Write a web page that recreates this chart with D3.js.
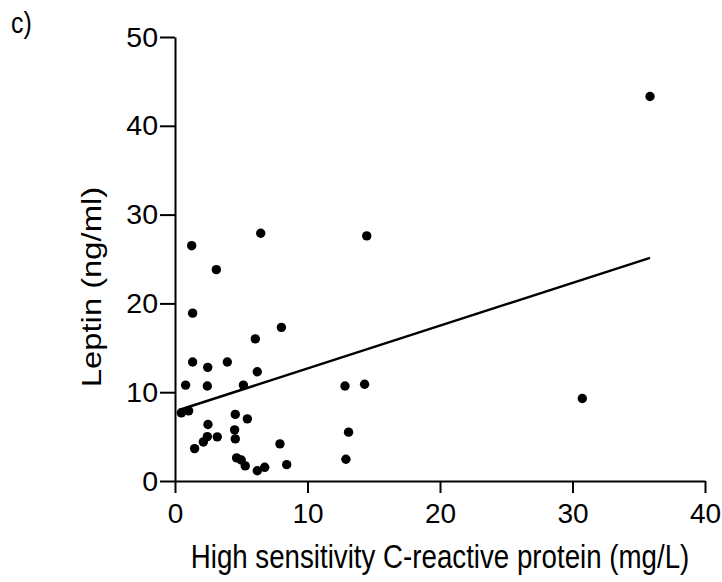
<!DOCTYPE html>
<html>
<head>
<meta charset="utf-8">
<script src="https://cdn.jsdelivr.net/npm/d3@7"></script>
<style>
  body { margin: 0; background: #fff; }
  svg { display: block; }
</style>
</head>
<body>
<script>
// data
const crp = [6.47, 14.47, 1.26, 3.12, 1.33, 8.03, 6.06, 1.33, 2.47, 3.95, 6.21, 0.8,
  2.44, 5.16, 12.83, 14.31, 0.48, 1.03, 4.55, 5.46, 2.49, 4.5, 13.1, 2.44, 2.14,
  3.19, 4.55, 1.48, 7.92, 4.65, 5.0, 5.3, 6.21, 6.77, 8.43, 12.9, 35.85, 30.74]
const leptin = [27.9, 27.6, 26.5, 23.8, 18.9, 17.3, 16.0, 13.4, 12.8, 13.4, 12.3, 10.8,
  10.7, 10.8, 10.7, 10.9, 7.67, 7.9, 7.5, 7.0, 6.36, 5.76, 5.5, 5.0, 4.4,
  4.97, 4.74, 3.65, 4.18, 2.6, 2.37, 1.7, 1.16, 1.54, 1.84, 2.45, 43.3, 9.29]
const fitX = [0.3, 35.85]
const fitSlope = 0.482, fitIntercept = 7.85
const xTicks = [0, 10, 20, 30, 40]
const yTicks = [0, 10, 20, 30, 40, 50]

width = 722
height = 582
margin = ({top: 37, right: 17, bottom: 101, left: 175})
font = "'Liberation Sans', Arial, Helvetica, sans-serif"

const points = crp.map((x, i) => ({x, y: leptin[i]}))

x = d3.scaleLinear()
  .domain([0, 40])
  .range([margin.left, width - margin.right])

y = d3.scaleLinear()
  .domain([0, 50])
  .range([height - margin.bottom, margin.top])

const svg = d3.select("body").append("svg")
  .attr("width", width)
  .attr("height", height)

xAxis = g => g
  .attr("transform", `translate(0,${y(0)})`)
  .call(d3.axisBottom(x).tickValues(xTicks).tickSize(12).tickSizeOuter(0).tickPadding(10))
  .call(g => g.selectAll("line, path").attr("stroke", "#000").attr("stroke-width", 2))
  .call(g => g.selectAll("text").attr("font-size", 28).attr("font-family", font).attr("fill", "#000"))

yAxis = g => g
  .attr("transform", `translate(${x(0)},0)`)
  .call(d3.axisLeft(y).tickValues(yTicks).tickSize(15).tickSizeOuter(0).tickPadding(2))
  .call(g => g.selectAll("line, path").attr("stroke", "#000").attr("stroke-width", 2))
  .call(g => g.selectAll("text").attr("font-size", 28.5).attr("font-family", font).attr("fill", "#000"))

svg.append("g").call(xAxis)
svg.append("g").call(yAxis)

// regression line
const line = d3.line().x(d => x(d)).y(d => y(fitIntercept + fitSlope * d))
svg.append("path")
  .attr("d", line(fitX))
  .attr("fill", "none")
  .attr("stroke", "#000")
  .attr("stroke-width", 2.4)

svg.append("g")
  .selectAll("circle")
  .data(points)
  .join("circle")
    .attr("cx", d => x(d.x))
    .attr("cy", d => y(d.y))
    .attr("r", 4.7)
    .attr("fill", "#000")

// titles (slightly tall glyphs, like the picture)
svg.append("text")
  .attr("transform", `translate(${(x(0) + x(40)) / 2 + 0},568) scale(1,1.18)`)
  .attr("text-anchor", "middle")
  .attr("font-family", font)
  .attr("font-size", 27.7)
  .text("High sensitivity C-reactive protein (mg/L)")

svg.append("text")
  .attr("transform", `translate(101,287) scale(1,1.17) rotate(-90)`)
  .attr("text-anchor", "middle")
  .attr("font-family", font)
  .attr("font-size", 28)
  .text("Leptin (ng/ml)")

svg.append("text")
  .attr("transform", "translate(11,33) scale(1,1.17)")
  .attr("font-family", font)
  .attr("font-size", 25)
  .text("c)")
</script>
</body>
</html>
